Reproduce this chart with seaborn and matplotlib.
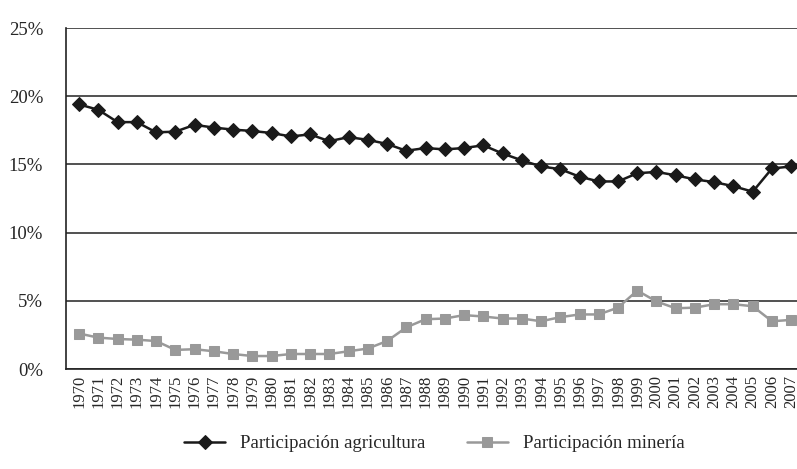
import pandas as pd
import numpy as np
import seaborn as sns
import matplotlib.pyplot as plt
from matplotlib.ticker import PercentFormatter

years = list(range(1970, 2008))

agricultura = [19.4, 19.0, 18.1, 18.1, 17.35, 17.4, 17.9, 17.7, 17.55, 17.45,
               17.3, 17.05, 17.2, 16.7, 17.0, 16.8, 16.5, 16.0, 16.2, 16.1,
               16.2, 16.4, 15.8, 15.3, 14.85, 14.65, 14.1, 13.75, 13.75, 14.35,
               14.45, 14.2, 13.9, 13.7, 13.4, 13.0, 14.7, 14.85]

mineria = [2.6, 2.3, 2.2, 2.15, 2.05, 1.4, 1.45, 1.3, 1.1, 0.95,
           0.95, 1.1, 1.1, 1.1, 1.3, 1.5, 2.05, 3.05, 3.65, 3.7,
           3.95, 3.85, 3.7, 3.7, 3.5, 3.8, 4.0, 4.0, 4.5, 5.75,
           4.95, 4.45, 4.5, 4.75, 4.75, 4.6, 3.5, 3.6]

df = pd.DataFrame({'pos': np.arange(len(years)), 'agri': agricultura, 'min': mineria})

sns.set_style("white")
plt.rcParams['font.family'] = ['Liberation Serif', 'DejaVu Serif']

fig = plt.figure(figsize=(7.97, 4.69), dpi=100)
ax = fig.add_axes([66 / 797, 1 - 369 / 469, 1 - 66 / 797, (369 - 28) / 469])

sns.lineplot(x='pos', y='agri', data=df, ax=ax, color='#1a1a1a', linewidth=1.8,
             marker='D', markersize=7, markeredgecolor='#1a1a1a',
             label='Participación agricultura')
sns.lineplot(x='pos', y='min', data=df, ax=ax, color='#999999', linewidth=1.8,
             marker='s', markersize=7.5, markeredgecolor='#999999',
             label='Participación minería')

ax.set_xlim(-0.68, 37.3)
ax.set_ylim(0, 25)
ax.set_yticks([0, 5, 10, 15, 20, 25])
ax.yaxis.set_major_formatter(PercentFormatter(decimals=0))
ax.set_xticks(range(len(years)))
ax.set_xticklabels([str(y) for y in years], rotation=90, fontsize=12)
ax.tick_params(axis='y', labelsize=13.5, length=9.5, width=1.2, color='#222222', pad=7)
ax.tick_params(axis='x', length=0, pad=4)
ax.yaxis.grid(True, color='#333333', linewidth=1.2)
ax.set_axisbelow(True)
ax.set_xlabel('')
ax.set_ylabel('')

for s in ['top', 'right']:
    ax.spines[s].set_visible(False)
for s in ['left', 'bottom']:
    ax.spines[s].set_color('#222222')
    ax.spines[s].set_linewidth(1.2)

ax.legend(loc='upper center', bbox_to_anchor=(0.504, -0.145), ncol=2, frameon=False,
          fontsize=13.5, handlelength=2.2, columnspacing=2.2)

plt.savefig('out.png', dpi=100)
